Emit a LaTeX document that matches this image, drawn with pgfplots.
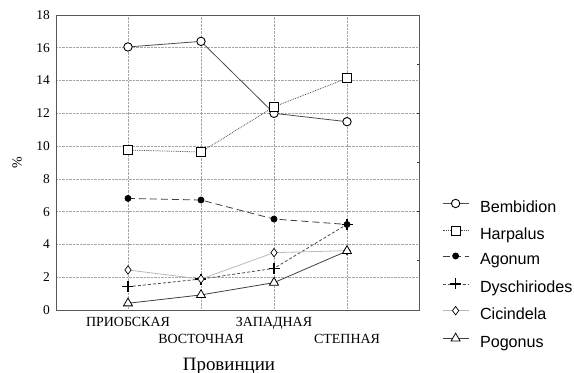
\documentclass[border=0pt]{standalone}
\usepackage{fontspec}
\setmainfont{Liberation Serif}
\setsansfont{Liberation Sans}
\usepackage{pgfplots}
\pgfplotsset{compat=1.18}
\begin{document}
\begin{tikzpicture}
\path[use as bounding box] (0,0) rectangle (574bp,373bp);
\begin{axis}[
  at={(56bp,63bp)}, anchor=south west,
  width=363bp, height=295bp, scale only axis,
  xmin=-0.986, xmax=3.986, ymin=0, ymax=18,
  xtick={0,1,2,3},
  xticklabels={ПРИОБСКАЯ, {\raisebox{-17bp}[\height][0pt]{ВОСТОЧНАЯ}}, ЗАПАДНАЯ, {\raisebox{-17bp}[\height][0pt]{СТЕПНАЯ}}},
  ytick={0,2,...,18},
  major tick length=0pt,
  grid=major,
  grid style={densely dotted, gray!70, line width=0.6bp},
  axis line style={gray!70!black, line width=0.9bp},
  /pgf/number format/assume math mode=true,
  yticklabel style={inner sep=0pt, xshift=-6bp, font=\fontsize{13.5}{15}\selectfont},
  xticklabel style={anchor=north, inner sep=0pt, yshift=-7bp, font=\fontsize{14}{16}\selectfont},
  ylabel={\%},
  ylabel style={at={(axis description cs:-0.107,0.5)}, anchor=center, font=\fontsize{14}{16}\selectfont},
  xlabel={Провинции},
  xlabel style={at={(axis description cs:0.349,-0.2034)}, anchor=base west, inner sep=0pt, font=\fontsize{19}{21}\selectfont},
  legend style={at={(1.0634,0.376)}, anchor=north west, draw=none, fill=none,
    font=\sffamily\fontsize{16.2}{19}\selectfont, row sep=10.5bp, column sep=11bp, inner sep=0pt,
    nodes={inner sep=0pt, text height=12bp, text depth=3bp},
    cells={anchor=west}},
  legend image code/.code={\draw[mark repeat=2,mark phase=2] plot coordinates {(0bp,4.5bp)(13bp,4.5bp)(26bp,4.5bp)};},
  every axis plot/.append style={line width=0.8bp},
]
\addplot[color=gray!60!black, solid, mark=*, mark size=4.2bp, mark options={solid, fill=white, draw=black, line width=0.9bp}]
  coordinates {(0,16.05) (1,16.39) (2,12.0) (3,11.49)};
\addlegendentry{Bembidion}
\addplot[color=black!70, densely dotted, mark=square*, mark size=4.5bp, mark options={solid, fill=white, draw=black, line width=0.9bp}]
  coordinates {(0,9.76) (1,9.64) (2,12.4) (3,14.14)};
\addlegendentry{Harpalus}
\addplot[color=black!75, dash pattern=on 7bp off 4bp, mark=*, mark size=3bp, mark options={solid, fill=black, draw=black}]
  coordinates {(0,6.81) (1,6.71) (2,5.55) (3,5.22)};
\addlegendentry{Agonum}
\addplot[color=gray!60!black, dash pattern=on 3bp off 2bp, mark=+, mark size=5.5bp, mark options={solid, draw=black, line width=1.5bp}]
  coordinates {(0,1.42) (1,1.89) (2,2.54) (3,5.23)};
\addlegendentry{Dyschiriodes}
\addplot[color=gray!55, solid, mark=diamond*, mark size=4.2bp, mark options={solid, fill=white, draw=black, line width=0.7bp}]
  coordinates {(0,2.44) (1,1.89) (2,3.5) (3,3.62)};
\addlegendentry{Cicindela}
\addplot[color=black!75, solid, mark=triangle*, mark size=5.2bp, mark options={solid, fill=white, draw=black, line width=0.8bp}]
  coordinates {(0,0.41) (1,0.92) (2,1.67) (3,3.6)};
\addlegendentry{Pogonus}
\end{axis}
\begin{axis}[
  at={(56bp,63bp)}, anchor=south west,
  width=363bp, height=295bp, scale only axis,
  xmin=-0.986, xmax=3.986, ymin=0, ymax=18,
  axis line style={draw=none},
  xtick=\empty, ytick={3,6,9,12,15}, yticklabels={},
  ytick pos=right, tick align=inside, major tick length=2.5bp,
  tick style={gray!40!black, line width=0.8bp},
]
\addplot[draw=none] coordinates {(0,0)};
\end{axis}
\end{tikzpicture}
\end{document}
